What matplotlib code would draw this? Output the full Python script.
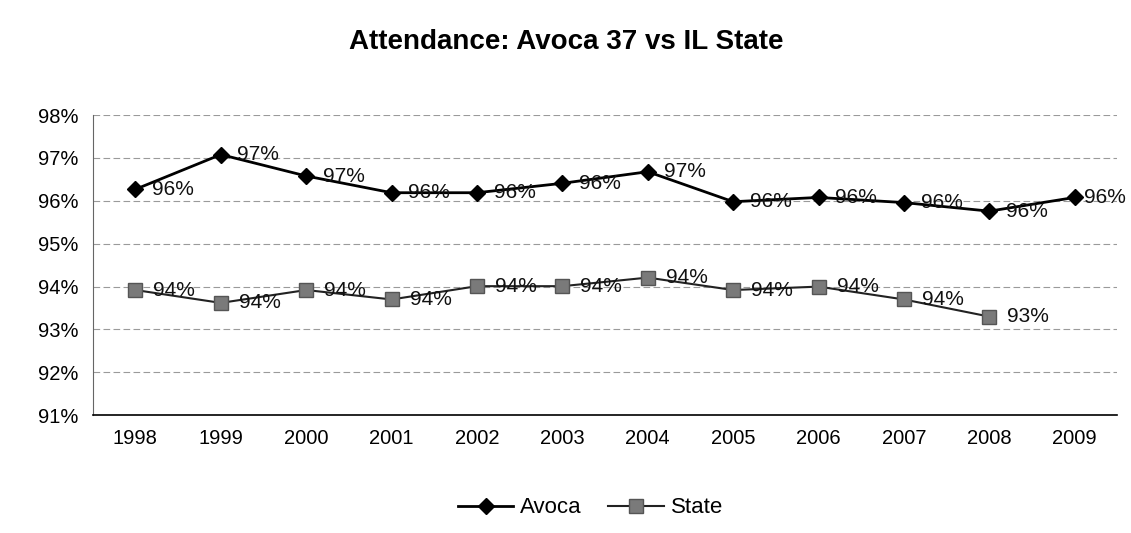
import matplotlib
matplotlib.use("Agg")
import matplotlib.pyplot as plt

plt.rcParams["font.family"] = ["Liberation Sans", "DejaVu Sans"]

years = ["1998", "1999", "2000", "2001", "2002", "2003",
         "2004", "2005", "2006", "2007", "2008", "2009"]
avoca = [96.27, 97.08, 96.58, 96.19, 96.19, 96.41,
         96.68, 95.98, 96.08, 95.96, 95.76, 96.08]
state = [93.92, 93.62, 93.92, 93.70, 94.01, 94.01,
         94.21, 93.92, 94.00, 93.70, 93.30]
y_ticks = [91, 92, 93, 94, 95, 96, 97, 98]

fig = plt.figure(figsize=(11.31, 5.33), dpi=100)
ax = fig.add_axes([0.082, 0.221, 0.906, 0.563])

x = list(range(len(years)))

ax.plot(x, avoca, color="black", linewidth=2, marker="D", markersize=8,
        markerfacecolor="black", markeredgecolor="black", label="Avoca", zorder=3)
ax.plot(x[:len(state)], state, color="#222222", linewidth=1.5, marker="s", markersize=10,
        markerfacecolor="#7a7a7a", markeredgecolor="#555555", label="State", zorder=3)

for xi, v in zip(x, avoca):
    # last label sits tight against the marker so it fits in the figure
    off = 7 if xi == x[-1] else 12
    ax.annotate(f"{v:.0f}%", (xi, v), xytext=(off, 0), textcoords="offset points",
                ha="left", va="center", fontsize=15, color="#111111")
for xi, v in zip(x, state):
    ax.annotate(f"{v:.0f}%", (xi, v), xytext=(13, 0), textcoords="offset points",
                ha="left", va="center", fontsize=15, color="#111111")

ax.set_xlim(-0.5, len(years) - 0.5)
ax.set_ylim(91, 98)
ax.set_xticks(x)
ax.set_xticklabels(years, fontsize=14.5)
ax.set_yticks(y_ticks)
ax.set_yticklabels([f"{t}%" for t in y_ticks], fontsize=14.5)
ax.tick_params(length=0, pad=10)

ax.grid(axis="y", color="#9a9a9a", linestyle=(0, (6, 3)), linewidth=0.8)
ax.set_axisbelow(True)
for s in ["top", "right"]:
    ax.spines[s].set_visible(False)
ax.spines["left"].set_color("#666666")
ax.spines["bottom"].set_color("black")
ax.spines["bottom"].set_linewidth(1.2)

fig.text(0.501, 0.921, "Attendance: Avoca 37 vs IL State", fontsize=20, fontweight="bold",
         ha="center", va="center")

fig.legend(loc="center", bbox_to_anchor=(0.522, 0.047), ncol=2, frameon=False,
           fontsize=16, handlelength=2.5, columnspacing=1.2, handletextpad=0.3)

fig.savefig("out.png", dpi=100)
